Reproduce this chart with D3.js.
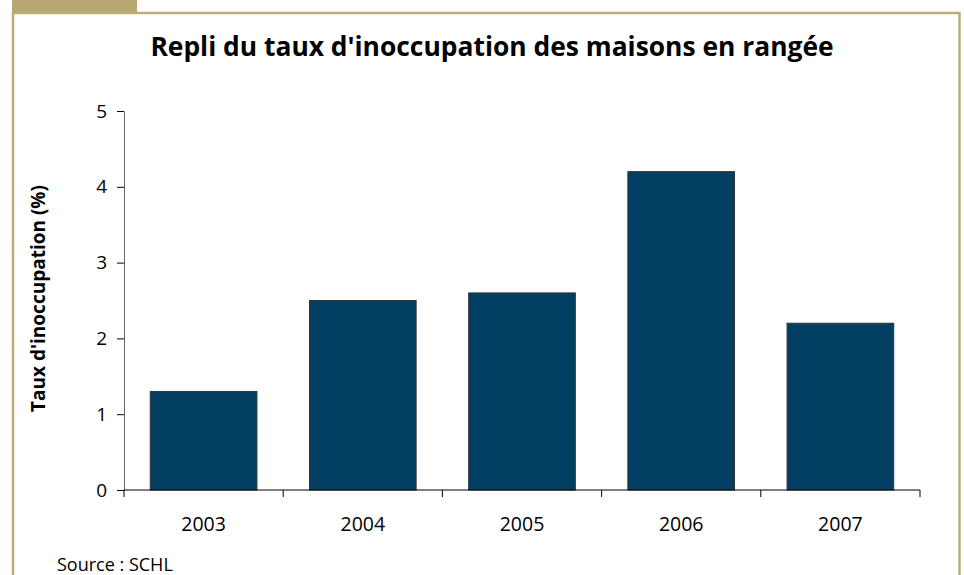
<!DOCTYPE html>
<html>
<head>
<meta charset="utf-8">
<script src="https://cdn.jsdelivr.net/npm/d3@7"></script>
<style>
  body { margin: 0; background: #fff; }
  svg { display: block; font-family: "Open Sans", sans-serif; }
</style>
</head>
<body>
<div id="chart"></div>
<script>
// data
const years = ["2003", "2004", "2005", "2006", "2007"];
const rates = [1.3, 2.5, 2.6, 4.2, 2.2];
const yTicks = [0, 1, 2, 3, 4, 5];

const W = 964, H = 575;
const margin = { top: 111, right: 44, bottom: 85, left: 124 };

const svg = d3.select("#chart").append("svg")
  .attr("width", W)
  .attr("height", H);

// frame + tab
const frameColor = "#bcae78";
svg.append("rect")
  .attr("x", 12).attr("y", 0)
  .attr("width", 125).attr("height", 13)
  .attr("fill", "#b7a873");
svg.append("path")
  .attr("d", "M13,575 V13 H959.5 V575")
  .attr("fill", "none")
  .attr("stroke", frameColor)
  .attr("stroke-width", 2.5);

const x = d3.scaleBand()
  .domain(years)
  .range([margin.left, W - margin.right])
  .paddingInner(0.33)
  .paddingOuter(0.165);

const y = d3.scaleLinear()
  .domain([0, 5])
  .range([H - margin.bottom, margin.top]);

// title
svg.append("text")
  .attr("x", 492)
  .attr("y", 56)
  .attr("text-anchor", "middle")
  .attr("font-size", 26.4)
  .attr("font-weight", "bold")
  .attr("fill", "#000")
  .text("Repli du taux d'inoccupation des maisons en rangée");

// bars
svg.selectAll("rect.bar")
  .data(years.map((yr, i) => ({ yr, v: rates[i] })))
  .enter().append("rect")
  .attr("class", "bar")
  .attr("x", d => x(d.yr))
  .attr("y", d => y(d.v))
  .attr("width", x.bandwidth())
  .attr("height", d => y(0) - y(d.v))
  .attr("fill", "#023f63")
  .attr("stroke", "#333")
  .attr("stroke-width", 1);

// y axis
const yAxis = svg.append("g")
  .attr("transform", `translate(${margin.left},0)`)
  .call(d3.axisLeft(y).tickValues(yTicks).tickFormat(d3.format("d"))
    .tickSize(7).tickPadding(10).tickSizeOuter(0));
yAxis.select(".domain").attr("stroke", "#666");
yAxis.selectAll("text").attr("font-size", 19).attr("font-family", "Open Sans, sans-serif").attr("fill", "#000");

// x axis: ticks at category boundaries
const xAxisG = svg.append("g")
  .attr("transform", `translate(0,${y(0)})`);
xAxisG.append("line")
  .attr("x1", margin.left).attr("x2", W - margin.right)
  .attr("stroke", "#000");
const bounds = years.map(yr => x(yr) - x.step() * x.paddingInner() / 2);
bounds.push(W - margin.right);
xAxisG.selectAll("line.tick")
  .data(bounds)
  .enter().append("line")
  .attr("x1", d => d).attr("x2", d => d)
  .attr("y1", 0).attr("y2", 7)
  .attr("stroke", "#000");
xAxisG.selectAll("text")
  .data(years)
  .enter().append("text")
  .attr("x", d => x(d) + x.bandwidth() / 2)
  .attr("y", 41)
  .attr("text-anchor", "middle")
  .attr("font-size", 19.5)
  .attr("fill", "#000")
  .text(d => d);

// y axis title
svg.append("text")
  .attr("transform", `translate(45,${(y(0) + y(5)) / 2 - 2}) rotate(-90)`)
  .attr("text-anchor", "middle")
  .attr("font-size", 19)
  .attr("font-weight", "bold")
  .text("Taux d'inoccupation (%)");

// source
svg.append("text")
  .attr("x", 57)
  .attr("y", 571)
  .attr("font-size", 18)
  .text("Source : SCHL");
</script>
</body>
</html>
